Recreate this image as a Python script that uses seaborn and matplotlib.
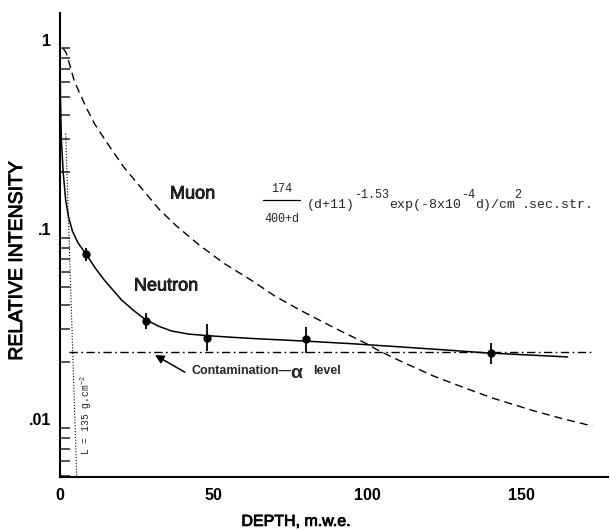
import matplotlib
matplotlib.use("Agg")
import matplotlib.pyplot as plt
import matplotlib.patheffects as pe
import numpy as np
import seaborn as sns
from matplotlib.lines import Line2D
from matplotlib.ticker import FixedLocator, LogLocator, NullFormatter

# measured neutron intensities with error bars
point_depth = [8.5, 28, 48, 80, 140]
point_intensity = [0.0747, 0.0331, 0.0268, 0.0265, 0.0223]
point_err_low = [0.068, 0.0299, 0.0228, 0.0223, 0.0196]
point_err_high = [0.080, 0.0363, 0.0316, 0.0307, 0.0252]

# hand drawn neutron curve
neutron_depth = [0.15, 0.3, 0.6, 1.2, 2.0, 2.9, 4.2, 6.0, 8.5, 11.5, 14.6, 20.1,
                 24, 27.6, 32, 36.3, 42, 47.7, 55, 63.4, 80, 95, 110, 125, 138,
                 150, 165]
neutron_intensity = [1.0, 0.5, 0.3, 0.2, 0.143, 0.117, 0.098, 0.085, 0.0747,
                     0.063, 0.054, 0.0426, 0.0375, 0.0338, 0.031, 0.0292, 0.0281,
                     0.0276, 0.0271, 0.0266, 0.0258, 0.025, 0.0241, 0.0232,
                     0.0224, 0.0219, 0.0213]

# muon curve (dashed)
muon_depth = [1.2, 2.2, 4.9, 8.5, 11.4, 15.2, 20.7, 26.6, 32.5, 37.8, 45.3, 53.6,
              62.3, 70, 78.1, 88.9, 99.7, 104.1, 110.6, 121.4, 132.2, 140.8,
              153.8, 163, 173.1]
muon_intensity = [0.90, 0.851, 0.60, 0.445, 0.36, 0.29, 0.215, 0.165, 0.127,
                  0.105, 0.083, 0.066, 0.054, 0.0445, 0.0376, 0.0305, 0.025,
                  0.0228, 0.0203, 0.0169, 0.0145, 0.0129, 0.0111, 0.0101, 0.0092]

# contamination alpha level
contamination_depth = [3, 173]
contamination_intensity = [0.0227, 0.0227]

# L = 135 g/cm2 dotted marker
l_line_depth = [2.0, 5.6]
l_line_intensity = [0.32, 0.005]

x_ticks = list(range(0, 171, 10))
x_tick_labels = [str(t) if t % 50 == 0 else "" for t in x_ticks]
y_ticks = [0.01, 0.1, 1]
y_tick_labels = [".01", ".1", "1"]

# formula pieces: (text, is superscript)
formula_parts = [("(d+11)", False), ("-1.53", True), ("exp(-8x10", False),
                 ("-4", True), ("d)/cm", False), ("2", True), (".sec.str.", False)]

W, H = 610, 531

sns.set_theme(style="white")
plt.rcParams["font.family"] = ["Liberation Sans", "DejaVu Sans"]
plt.rcParams["mathtext.fontset"] = "custom"
plt.rcParams["mathtext.rm"] = "Liberation Mono"
plt.rcParams["mathtext.it"] = "Liberation Mono"

heavy = [pe.withStroke(linewidth=0.6, foreground="black")]


def fpos(px, py):
    return px / W, 1 - py / H


fig = plt.figure(figsize=(W / 100, H / 100), dpi=100)
ax = fig.add_axes([59.5 / W, 54.3 / H, 548.2 / W, 463.7 / H])

sns.lineplot(x=muon_depth, y=muon_intensity, ax=ax, color="black", lw=1.0,
             linestyle=(0, (5.8, 3.6)), estimator=None, sort=False)
sns.lineplot(x=neutron_depth, y=neutron_intensity, ax=ax, color="black", lw=1.1,
             estimator=None, sort=False)
ax.plot(contamination_depth, contamination_intensity, color="black", lw=1.0,
        linestyle=(0, (6, 2.5, 1.2, 2.5)))
ax.plot(l_line_depth, l_line_intensity, color="black", lw=0.8,
        linestyle=(0, (1, 1.6)))
ax.vlines(point_depth, point_err_low, point_err_high, color="black", lw=1.3)
sns.scatterplot(x=point_depth, y=point_intensity, ax=ax, color="black", s=36,
                edgecolor="black", linewidth=0, zorder=5)

ax.set_yscale("log")
ax.set_xlim(0, 178)
ax.set_ylim(0.00498, 1.383)

ax.xaxis.set_major_locator(FixedLocator(x_ticks))
ax.set_xticklabels(x_tick_labels, fontweight="bold")
ax.yaxis.set_major_locator(FixedLocator(y_ticks))
ax.set_yticklabels(y_tick_labels, fontweight="bold")
ax.yaxis.set_minor_locator(LogLocator(base=10, subs=np.arange(2, 10)))
ax.yaxis.set_minor_formatter(NullFormatter())

ax.tick_params(axis="x", which="major", direction="in", length=8.6, width=1.2,
               pad=8, labelsize=11.5, colors="black")
ax.tick_params(axis="y", which="major", direction="in", length=8, width=1.2,
               pad=6, labelsize=11.5, colors="black")
ax.tick_params(axis="y", which="minor", direction="in", length=7, width=1.1,
               left=True)

for side in ["top", "right"]:
    ax.spines[side].set_visible(False)
for side in ["left", "bottom"]:
    ax.spines[side].set_linewidth(1.5)
    ax.spines[side].set_color("black")

ax.set_xlabel("DEPTH, m.w.e.", fontsize=11.5, color="black")
ax.xaxis.set_label_coords((296 - 59.5) / 548.2, (477 - 521.7) / 463.7)
ax.xaxis.label.set_va("center")
ax.xaxis.label.set_path_effects(heavy)
ax.set_ylabel("RELATIVE INTENSITY", fontsize=14, color="black", va="center")
ax.yaxis.set_label_coords((17.5 - 59.5) / 548.2, (477 - 261) / 463.7)
ax.yaxis.label.set_path_effects(heavy)

# curve labels
fig.text(*fpos(192.5, 194), "Muon", fontsize=13, ha="center", va="center",
         path_effects=heavy)
fig.text(*fpos(166, 286), "Neutron", fontsize=13, ha="center", va="center",
         path_effects=heavy)

# muon formula
fig.text(*fpos(281.5, 189), "174", fontsize=8.5, family="Liberation Mono",
         ha="center", va="center")
fig.text(*fpos(281.5, 219), "400+d", fontsize=8.5, family="Liberation Mono",
         ha="center", va="center")
fig.add_artist(Line2D([263 / W, 300 / W], [1 - 200 / H] * 2,
                      transform=fig.transFigure, color="black", lw=0.9))
x_px = 306.7
for part, sup in formula_parts:
    size = 8.5 if sup else 9.5
    base = 197.5 if sup else 208
    fig.text(*fpos(x_px, base), part, fontsize=size, family="Liberation Mono",
             ha="left", va="baseline")
    x_px += len(part) * 0.6 * size * 100 / 72

# L marker label
fig.text(*fpos(86, 415), "L = 135 g.cm$^{-2}$", fontsize=7,
         family="Liberation Mono", rotation=90, ha="center", va="center")

# contamination label and arrow
ax.annotate("", xy=(31.0, 0.0218), xytext=(40.7, 0.0177),
            arrowprops=dict(arrowstyle="-|>", color="black", lw=1.1,
                            mutation_scale=13, shrinkA=0, shrinkB=0))
fig.text(*fpos(191.7, 371), "Contamination\u2014", fontsize=9,
         fontweight="bold", ha="left", va="center")
fig.text(*fpos(296.7, 373), "\u03b1", fontsize=14, fontweight="bold",
         ha="center", va="center")
fig.text(*fpos(313, 371), "level", fontsize=9, fontweight="bold",
         ha="left", va="center")

fig.savefig("out.png", dpi=100, facecolor="white")
